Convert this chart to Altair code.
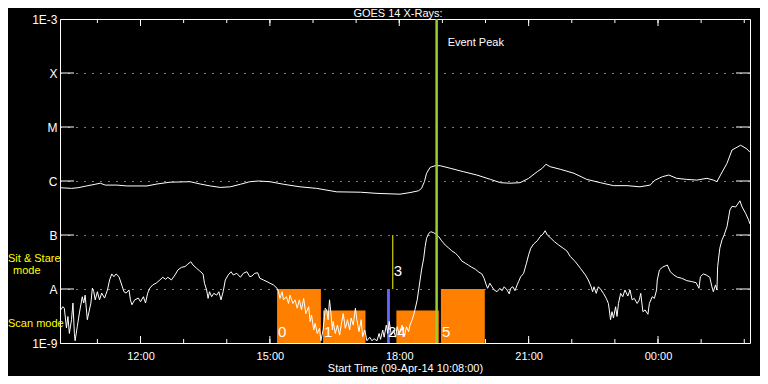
import altair as alt
import pandas as pd

# ---------------- data ----------------
TITLE = "GOES 14 X-Rays:"
X_TITLE = "Start Time (09-Apr-14 10:08:00)"
DAY1, DAY2 = "2014-04-09", "2014-04-10"
RANGE_START = "10:08"
RANGE_END = "02:08"

level_values = [1e-9, 1e-8, 1e-7, 1e-6, 1e-5, 1e-4, 1e-3]
level_labels = ["1E-9", "A", "B", "C", "M", "X", "1E-3"]

x_label_times = ["12:00", "15:00", "18:00", "21:00", "00:00"]
hour_ticks = ["11:00", "12:00", "13:00", "14:00", "15:00", "16:00", "17:00", "18:00",
              "19:00", "20:00", "21:00", "22:00", "23:00", "00:00", "01:00", "02:00"]
major_ticks = ["12:00", "15:00", "18:00", "21:00", "00:00"]

# long-wavelength channel (upper curve)
long_time = ["10:09", "10:24", "10:33", "10:45", "10:57", "11:04", "11:11", "11:27", "11:41", "12:09",
             "12:23", "12:41", "13:09", "13:23", "13:37", "13:51", "14:05", "14:19", "14:32", "14:44",
             "15:00", "15:19", "15:42", "16:05", "16:33", "17:06", "17:29", "18:01", "18:15", "18:27",
             "18:31", "18:35", "18:38", "18:43", "18:50", "18:57", "19:11", "19:29", "19:48", "20:07",
             "20:21", "20:34", "20:48", "21:00", "21:12", "21:19", "21:24", "21:30", "21:44", "22:03",
             "22:21", "22:40", "22:58", "23:17", "23:35", "23:49", "23:56", "00:06", "00:15", "00:26",
             "00:40", "00:54", "01:08", "01:17", "01:22", "01:27", "01:36", "01:43", "01:55", "02:04",
             "02:08"]
long_flux = [7.5e-7, 7.3e-7, 7.5e-7, 8.1e-7, 8.7e-7, 9.1e-7, 8.4e-7, 8.4e-7, 8.1e-7, 8.1e-7,
             8.8e-7, 9.5e-7, 9.7e-7, 8.8e-7, 8.1e-7, 7.6e-7, 7.8e-7, 8.7e-7, 9.7e-7, 1.0e-6,
             9.7e-7, 8.7e-7, 7.8e-7, 7.3e-7, 6.3e-7, 6.2e-7, 5.9e-7, 5.7e-7, 6.1e-7, 6.6e-7,
             7.3e-7, 9.7e-7, 1.39e-6, 1.79e-6, 1.92e-6, 1.92e-6, 1.72e-6, 1.49e-6, 1.29e-6, 1.07e-6,
             9.3e-7, 9.1e-7, 9.3e-7, 1.12e-6, 1.49e-6, 1.72e-6, 2.04e-6, 1.84e-6, 1.65e-6, 1.39e-6,
             1.07e-6, 9.3e-7, 8.2e-7, 8.2e-7, 7.8e-7, 8.4e-7, 1.04e-6, 1.2e-6, 1.29e-6, 1.12e-6,
             1.07e-6, 1.04e-6, 1.12e-6, 1.04e-6, 9.7e-7, 1.29e-6, 2.13e-6, 3.75e-6, 4.6e-6, 3.9e-6,
             3.4e-6]

# short-wavelength channel (lower curve)
short_time = ["10:09", "10:12", "10:14", "10:17", "10:19", "10:21", "10:24", "10:26", "10:28", "10:29",
              "10:32", "10:35", "10:39", "10:41", "10:43", "10:46", "10:48", "10:51", "10:53", "10:55",
              "10:57", "11:00", "11:03", "11:06", "11:10", "11:14", "11:17", "11:20", "11:23", "11:26",
              "11:30", "11:33", "11:37", "11:40", "11:44", "11:46", "11:48", "11:52", "11:57", "12:00",
              "12:04", "12:07", "12:10", "12:13", "12:17", "12:22", "12:27", "12:31", "12:35", "12:38",
              "12:43", "12:48", "12:52", "12:57", "13:02", "13:06", "13:10", "13:13", "13:18", "13:22",
              "13:27", "13:29", "13:32", "13:34", "13:36", "13:39", "13:42", "13:46", "13:49", "13:52",
              "13:55", "13:58", "14:02", "14:06", "14:09", "14:14", "14:19", "14:23", "14:28", "14:32",
              "14:35", "14:39", "14:43", "14:46", "14:51", "14:56", "15:00", "15:05", "15:10", "15:12",
              "15:14", "15:17", "15:19", "15:23", "15:26", "15:28", "15:32", "15:35", "15:38", "15:41",
              "15:44", "15:47", "15:50", "15:54", "15:56", "15:58", "16:01", "16:03", "16:06", "16:09",
              "16:11", "16:14", "16:16", "16:17", "16:19", "16:21", "16:23", "16:25", "16:27", "16:28",
              "16:31", "16:34", "16:37", "16:40", "16:42", "16:45", "16:48", "16:51", "16:53", "16:56",
              "16:59", "17:01", "17:04", "17:07", "17:09", "17:12", "17:15", "17:19", "17:22", "17:25",
              "17:29", "17:32", "17:34", "17:37", "17:39", "17:42", "17:44", "17:46", "17:49", "17:52",
              "17:55", "17:57", "18:00", "18:04", "18:07", "18:10", "18:13", "18:15", "18:18", "18:20",
              "18:22", "18:25", "18:27", "18:29", "18:31", "18:34", "18:36", "18:38", "18:41", "18:44",
              "18:48", "18:51", "18:55", "18:59", "19:04", "19:09", "19:13", "19:18", "19:22", "19:27",
              "19:32", "19:36", "19:41", "19:46", "19:50", "19:55", "19:58", "20:01", "20:03", "20:06",
              "20:09", "20:12", "20:16", "20:20", "20:23", "20:26", "20:30", "20:33", "20:35", "20:38",
              "20:41", "20:44", "20:46", "20:49", "20:53", "20:57", "21:00", "21:03", "21:07", "21:12",
              "21:16", "21:20", "21:23", "21:26", "21:31", "21:36", "21:42", "21:48", "21:53", "21:58",
              "22:05", "22:12", "22:19", "22:23", "22:27", "22:29", "22:31", "22:34", "22:37", "22:41",
              "22:44", "22:48", "22:51", "22:54", "22:56", "22:58", "23:01", "23:03", "23:05", "23:08",
              "23:11", "23:14", "23:18", "23:21", "23:24", "23:27", "23:31", "23:34", "23:36", "23:39",
              "23:42", "23:46", "23:48", "23:52", "23:55", "23:58", "23:59", "00:02", "00:06", "00:10",
              "00:13", "00:17", "00:22", "00:27", "00:33", "00:40", "00:47", "00:53", "00:57", "00:59",
              "01:03", "01:07", "01:12", "01:15", "01:17", "01:20", "01:22", "01:23", "01:26", "01:29",
              "01:32", "01:36", "01:40", "01:43", "01:48", "01:50", "01:54", "01:57", "02:02", "02:06",
              "02:08"]
short_flux = [4.1e-9, 4.7e-9, 4.4e-9, 1.9e-9, 3.1e-9, 1.5e-9, 2.7e-9, 5.5e-9, 1.5e-9, 1.1e-9,
              2.0e-9, 3.6e-9, 7.2e-9, 5.5e-9, 7.7e-9, 2.7e-9, 3.6e-9, 5.5e-9, 1.04e-8, 8.9e-9,
              6.3e-9, 8.9e-9, 6.3e-9, 8.4e-9, 6.8e-9, 9.6e-9, 1.47e-8, 1.9e-8, 1.69e-8, 1.9e-8,
              1.69e-8, 1.29e-8, 8.9e-9, 8.4e-9, 9.6e-9, 6.3e-9, 5.1e-9, 6.3e-9, 6.8e-9, 5.8e-9,
              7.2e-9, 5.5e-9, 8.4e-9, 1.04e-8, 1.19e-8, 1.29e-8, 1.47e-8, 1.65e-8, 1.51e-8, 1.65e-8,
              1.47e-8, 1.82e-8, 2.25e-8, 2.52e-8, 2.6e-8, 2.9e-8, 3.2e-8, 2.78e-8, 2.42e-8, 2.18e-8,
              1.9e-8, 1.28e-8, 9.6e-9, 6.7e-9, 8.9e-9, 7.2e-9, 8.3e-9, 7.7e-9, 8.9e-9, 6.3e-9,
              8.9e-9, 1.47e-8, 1.82e-8, 2.09e-8, 1.82e-8, 1.95e-8, 1.65e-8, 1.95e-8, 2.09e-8, 1.69e-8,
              1.74e-8, 1.95e-8, 2.0e-8, 1.58e-8, 1.47e-8, 1.37e-8, 1.28e-8, 1.19e-8, 1.03e-8, 8.9e-9,
              6.7e-9, 8.9e-9, 6.3e-9, 7.2e-9, 5.4e-9, 7.7e-9, 5.4e-9, 6.3e-9, 4.4e-9, 6.3e-9,
              4.1e-9, 6.7e-9, 3.5e-9, 4.7e-9, 2.5e-9, 3.3e-9, 1.74e-9, 2.3e-9, 1.5e-9, 1.87e-9,
              1.1e-9, 1.74e-9, 3.1e-9, 4.4e-9, 4.1e-9, 2.7e-9, 6.3e-9, 3.5e-9, 1.74e-9, 2.5e-9,
              1.5e-9, 2.15e-9, 1.4e-9, 2.5e-9, 3.5e-9, 1.87e-9, 2.7e-9, 1.74e-9, 2.9e-9, 2.15e-9,
              4.4e-9, 2.7e-9, 1.62e-9, 2.7e-9, 1.31e-9, 1.74e-9, 1.1e-9, 1.28e-9, 1.1e-9, 1.2e-9,
              1.1e-9, 1.5e-9, 1.17e-9, 1.74e-9, 1.28e-9, 2.15e-9, 1.5e-9, 2.5e-9, 1.4e-9, 1.74e-9,
              1.28e-9, 2.0e-9, 1.5e-9, 2.15e-9, 1.31e-9, 2.0e-9, 1.62e-9, 2.15e-9, 2.7e-9, 3.3e-9,
              4.2e-9, 6.3e-9, 9.6e-9, 1.47e-8, 2.25e-8, 3.7e-8, 6.1e-8, 8.7e-8, 1.07e-7, 1.15e-7,
              1.1e-7, 1.04e-7, 9.3e-8, 7.8e-8, 6.5e-8, 5.7e-8, 5.1e-8, 4.6e-8, 4.1e-8, 3.3e-8,
              3.0e-8, 2.78e-8, 2.52e-8, 2.32e-8, 2.09e-8, 1.9e-8, 1.58e-8, 1.19e-8, 1.03e-8, 1.28e-8,
              1.1e-8, 9.6e-9, 8.9e-9, 1.03e-8, 9.3e-9, 1.1e-8, 9.6e-9, 8.1e-9, 1.03e-8, 1.1e-8,
              9.3e-9, 1.19e-8, 1.37e-8, 1.69e-8, 1.95e-8, 3.0e-8, 4.3e-8, 5.7e-8, 6.8e-8, 7.8e-8,
              9.3e-8, 1.04e-7, 1.2e-7, 1.0e-7, 8.7e-8, 7.5e-8, 6.5e-8, 5.7e-8, 5.1e-8, 4.0e-8,
              3.2e-8, 2.42e-8, 1.82e-8, 1.47e-8, 1.1e-8, 8.9e-9, 1.1e-8, 8.3e-9, 1.1e-8, 9.6e-9,
              8.3e-9, 6.7e-9, 5.4e-9, 2.7e-9, 3.8e-9, 2.9e-9, 4.7e-9, 3.1e-9, 5.4e-9, 8.3e-9,
              7.2e-9, 9.6e-9, 7.4e-9, 9.6e-9, 6.3e-9, 6.7e-9, 5.4e-9, 6.3e-9, 8.3e-9, 3.8e-9,
              4.1e-9, 3.4e-9, 5.4e-9, 7.2e-9, 6.7e-9, 9.6e-9, 1.47e-8, 2.25e-8, 2.52e-8, 2.67e-8,
              2.78e-8, 2.09e-8, 1.82e-8, 1.65e-8, 1.58e-8, 1.43e-8, 1.37e-8, 1.31e-8, 1.03e-8, 1.69e-8,
              1.9e-8, 1.82e-8, 1.65e-8, 1.1e-8, 8.9e-9, 1.19e-8, 9.6e-9, 2.6e-8, 5.7e-8, 8.1e-8,
              1.0e-7, 1.43e-7, 2.9e-7, 3.4e-7, 3.3e-7, 3.6e-7, 4.3e-7, 3.3e-7, 2.5e-7, 1.9e-7,
              1.6e-7]

# observing events (raster index, start, end, lower and upper level)
event_ids = ["0", "1", "2", "3", "4", "5"]
event_start = ["15:10", "16:14", "17:43", "17:51", "17:56", "18:58"]
event_end = ["16:11", "17:13", "17:47", "17:51", "18:55", "19:59"]
event_low = [1e-9, 1e-9, 1e-9, 1e-8, 1e-9, 1e-9]
event_high = [1e-8, 4e-9, 1e-8, 1e-7, 4e-9, 1e-8]
event_colors = ["#ff8000", "#ff8000", "#6464ff", "#ffff00", "#ff8000", "#ff8000"]

peak_time = "18:52"
peak_text = "Event Peak"
mode_texts = ["Sit & Stare", "mode", "Scan mode"]

# ---------------- helpers ----------------
def iso(hhmm):
    day = DAY2 if int(hhmm[:2]) < 10 else DAY1
    return f"{day}T{hhmm}:00"

def dt(hhmm):
    day = DAY2 if int(hhmm[:2]) < 10 else DAY1
    y, mo, d = (int(v) for v in day.split("-"))
    return alt.DateTime(year=y, month=mo, date=d, hours=int(hhmm[:2]), minutes=int(hhmm[3:]))

W, H = 690, 324
FONT = "Liberation Sans"
WHITE = "white"

long_df = pd.DataFrame({"time": [iso(t) for t in long_time], "flux": long_flux})
short_df = pd.DataFrame({"time": [iso(t) for t in short_time], "flux": short_flux})
ev_df = pd.DataFrame({"id": event_ids, "start": [iso(t) for t in event_start],
                      "end": [iso(t) for t in event_end], "low": event_low, "high": event_high})
ev_df["is_line"] = ev_df["start"] == ev_df["end"]
lev_df = pd.DataFrame({"flux": level_values[1:-1]})
tick_df = pd.DataFrame({"time": [iso(t) for t in hour_ticks]})
major_df = pd.DataFrame({"time": [iso(t) for t in major_ticks]})
peak_df = pd.DataFrame({"time": [iso(peak_time)], "label": [peak_text]})
title_df = pd.DataFrame({"label": [TITLE]})

xscale = alt.Scale(domain=[dt(RANGE_START), dt(RANGE_END)])
yscale = alt.Scale(type="log", domain=[level_values[0], level_values[-1]])

label_expr = ""
for v, lab in zip(level_values[:-1], level_labels[:-1]):
    label_expr += f"datum.value < {v * 3:.0e} ? '{lab}' : "
label_expr += f"'{level_labels[-1]}'"

x_axis = alt.Axis(values=[dt(t) for t in x_label_times], format="%H:%M", ticks=False, domain=False,
                  grid=False, labelColor=WHITE, labelFont=FONT, labelFontSize=11, labelPadding=7,
                  title=X_TITLE, titleColor=WHITE, titleFont=FONT, titleFontSize=11,
                  titleFontWeight="normal", titlePadding=1)
y_axis = alt.Axis(values=level_values, labelExpr=label_expr, ticks=False, domain=False, grid=True,
                  gridColor=WHITE, gridDash=[1, 7], gridWidth=1, labelColor=WHITE, labelFont=FONT,
                  labelFontSize=12, labelPadding=3, title=None)


def X(field):
    return alt.X(field, scale=xscale, axis=x_axis)


def Y(field):
    return alt.Y(field, scale=yscale, axis=y_axis)


event_color = alt.Color("id:N", scale=alt.Scale(domain=event_ids, range=event_colors), legend=None)

# ---------------- layers ----------------
short_line = alt.Chart(short_df).mark_line(color=WHITE, strokeWidth=1, clip=True).encode(
    x=X("time:T"), y=Y("flux:Q"))
long_line = alt.Chart(long_df).mark_line(color=WHITE, strokeWidth=1, clip=True).encode(
    x=X("time:T"), y=Y("flux:Q"))

ytick_left = alt.Chart(lev_df).mark_rule(color=WHITE).encode(
    y=Y("flux:Q"), x=alt.value(0), x2=alt.value(14))
ytick_right = alt.Chart(lev_df).mark_rule(color=WHITE).encode(
    y=Y("flux:Q"), x=alt.value(W - 14), x2=alt.value(W))
xt_bot = alt.Chart(tick_df).mark_rule(color=WHITE).encode(
    x=X("time:T"), y=alt.value(H - 4), y2=alt.value(H))
xt_top = alt.Chart(tick_df).mark_rule(color=WHITE).encode(
    x=X("time:T"), y=alt.value(0), y2=alt.value(4))
xM_bot = alt.Chart(major_df).mark_rule(color=WHITE).encode(
    x=X("time:T"), y=alt.value(H - 7), y2=alt.value(H))
xM_top = alt.Chart(major_df).mark_rule(color=WHITE).encode(
    x=X("time:T"), y=alt.value(0), y2=alt.value(7))

bars = alt.Chart(ev_df).transform_filter("!datum.is_line").mark_rect().encode(
    x=X("start:T"), x2="end:T", y=Y("low:Q"), y2="high:Q", color=event_color)
lines_ev = alt.Chart(ev_df).transform_filter("datum.is_line").mark_rule(strokeWidth=1).encode(
    x=X("start:T"), y=Y("low:Q"), y2="high:Q", color=event_color)

bar_labels = alt.Chart(ev_df).transform_filter("!datum.is_line").mark_text(
    align="left", baseline="bottom", dx=1, dy=-3, font=FONT, fontSize=15, color=WHITE).encode(
    x=X("start:T"), y=Y("low:Q"), text="id:N")
line_labels = alt.Chart(ev_df).transform_filter("datum.is_line").mark_text(
    align="left", baseline="bottom", dx=1, dy=-10, font=FONT, fontSize=15, color=WHITE).encode(
    x=X("start:T"), y=Y("low:Q"), text="id:N")

peak_rule = alt.Chart(peak_df).mark_rule(color="#9acd32", strokeWidth=2.5).encode(
    x=X("time:T"), y=alt.value(0), y2=alt.value(H))
peak_label = alt.Chart(peak_df).mark_text(
    align="left", baseline="middle", dx=11, font=FONT, fontSize=11, color=WHITE).encode(
    x=X("time:T"), y=alt.value(24), text="label:N")

title_mark = alt.Chart(title_df).mark_text(
    align="center", baseline="alphabetic", font=FONT, fontSize=11, color=WHITE).encode(
    x=alt.value(W / 2 - 7), y=alt.value(-2), text="label:N")


def mode_text(txt, px, py):
    return alt.Chart(title_df).mark_text(text=txt, align="left", baseline="middle",
                                         font=FONT, fontSize=11, color="#ffff00").encode(
        x=alt.value(px), y=alt.value(py))


mode1 = mode_text(mode_texts[0], -52, 240)
mode2 = mode_text(mode_texts[1], -47, 252)
mode3 = mode_text(mode_texts[2], -52, 305)

chart = alt.layer(
    ytick_left, ytick_right, xt_bot, xt_top, xM_bot, xM_top,
    bars, lines_ev, long_line, short_line,
    bar_labels, line_labels, peak_rule, peak_label, title_mark, mode1, mode2, mode3,
).properties(
    width=W, height=H,
    autosize=alt.AutoSizeParams(type="none"),
    padding={"left": 52, "top": 11, "right": 10, "bottom": 33},
    background="black",
).configure_view(stroke=WHITE, strokeWidth=1)

chart.save("out.html", embed_options={"renderer": "svg", "actions": False})
